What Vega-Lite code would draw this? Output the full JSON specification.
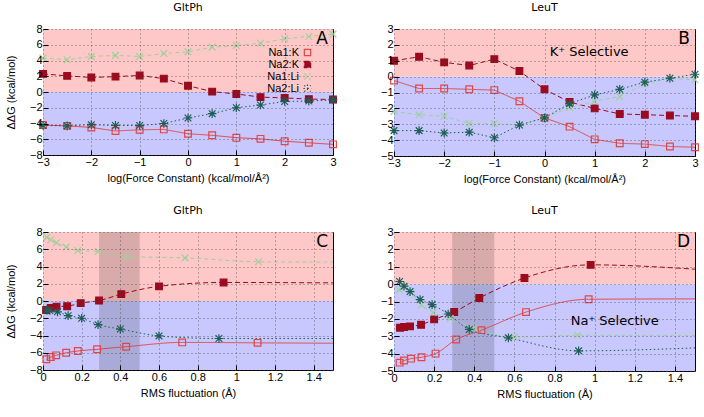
{
  "$schema": "https://vega.github.io/schema/vega-lite/v6.json",
  "padding": {"left": 4, "top": 1, "right": 4, "bottom": 4},
  "config": {
    "font": "Liberation Sans",
    "view": {"stroke": "#000", "strokeWidth": 1},
    "axis": {"grid": true, "gridColor": "#444", "gridDash": [1, 3], "gridOpacity": 0.9, "gridWidth": 0.8, "tickSize": -5, "tickColor": "#000", "domain": false, "labelFontSize": 11, "labelColor": "#000", "titleFontSize": 11, "titleFontWeight": "normal", "titleColor": "#000", "labelPadding": 6, "zindex": 1, "labelFlush": false, "labelOverlap": false, "tickCount": 20},
    "axisY": {"titlePadding": 13},
    "axisX": {"titlePadding": 5},
    "title": {"fontSize": 11, "fontWeight": "normal", "offset": 10, "font": "DejaVu Sans"},
    "legend": {"labelFontSize": 11, "symbolSize": 40, "rowPadding": -2, "padding": 0, "symbolStrokeWidth": 1.2, "labelColor": "#000", "labelAlign": "right", "labelOffset": -14}
  },
  "resolve": {"scale": {"color": "independent", "shape": "independent", "fill": "independent", "strokeDash": "independent"}},
  "data": {"values": [
    {"p":"A","s":"Na1:K","x":-3,"y":-4.2,"m":1},{"p":"A","s":"Na1:K","x":-2.5,"y":-4.3,"m":1},{"p":"A","s":"Na1:K","x":-2,"y":-4.5,"m":1},{"p":"A","s":"Na1:K","x":-1.5,"y":-4.95,"m":1},{"p":"A","s":"Na1:K","x":-1,"y":-4.8,"m":1},{"p":"A","s":"Na1:K","x":-0.5,"y":-4.75,"m":1},{"p":"A","s":"Na1:K","x":0,"y":-5.3,"m":1},{"p":"A","s":"Na1:K","x":0.5,"y":-5.5,"m":1},{"p":"A","s":"Na1:K","x":1,"y":-5.8,"m":1},{"p":"A","s":"Na1:K","x":1.5,"y":-5.95,"m":1},{"p":"A","s":"Na1:K","x":2,"y":-6.25,"m":1},{"p":"A","s":"Na1:K","x":2.5,"y":-6.45,"m":1},{"p":"A","s":"Na1:K","x":3,"y":-6.65,"m":1},
    {"p":"A","s":"Na2:K","x":-3,"y":2.3,"m":1},{"p":"A","s":"Na2:K","x":-2.5,"y":2.05,"m":1},{"p":"A","s":"Na2:K","x":-2,"y":1.85,"m":1},{"p":"A","s":"Na2:K","x":-1.5,"y":1.95,"m":1},{"p":"A","s":"Na2:K","x":-1,"y":2.1,"m":1},{"p":"A","s":"Na2:K","x":-0.5,"y":1.7,"m":1},{"p":"A","s":"Na2:K","x":0,"y":0.8,"m":1},{"p":"A","s":"Na2:K","x":0.5,"y":0.05,"m":1},{"p":"A","s":"Na2:K","x":1,"y":-0.25,"m":1},{"p":"A","s":"Na2:K","x":1.5,"y":-0.65,"m":1},{"p":"A","s":"Na2:K","x":2,"y":-0.75,"m":1},{"p":"A","s":"Na2:K","x":2.5,"y":-0.9,"m":1},{"p":"A","s":"Na2:K","x":3,"y":-0.95,"m":1},
    {"p":"A","s":"Na1:Li","x":-3,"y":4.3,"m":1},{"p":"A","s":"Na1:Li","x":-2.5,"y":4.1,"m":1},{"p":"A","s":"Na1:Li","x":-2,"y":4.5,"m":1},{"p":"A","s":"Na1:Li","x":-1.5,"y":4.65,"m":1},{"p":"A","s":"Na1:Li","x":-1,"y":4.5,"m":1},{"p":"A","s":"Na1:Li","x":-0.5,"y":4.9,"m":1},{"p":"A","s":"Na1:Li","x":0,"y":5.1,"m":1},{"p":"A","s":"Na1:Li","x":0.5,"y":5.7,"m":1},{"p":"A","s":"Na1:Li","x":1,"y":5.9,"m":1},{"p":"A","s":"Na1:Li","x":1.5,"y":6.2,"m":1},{"p":"A","s":"Na1:Li","x":2,"y":6.75,"m":1},{"p":"A","s":"Na1:Li","x":2.5,"y":7.05,"m":1},{"p":"A","s":"Na1:Li","x":3,"y":7.35,"m":1},
    {"p":"A","s":"Na2:Li","x":-3,"y":-4.25,"m":1},{"p":"A","s":"Na2:Li","x":-2.5,"y":-4.3,"m":1},{"p":"A","s":"Na2:Li","x":-2,"y":-4.15,"m":1},{"p":"A","s":"Na2:Li","x":-1.5,"y":-4.25,"m":1},{"p":"A","s":"Na2:Li","x":-1,"y":-4.25,"m":1},{"p":"A","s":"Na2:Li","x":-0.5,"y":-4.0,"m":1},{"p":"A","s":"Na2:Li","x":0,"y":-3.3,"m":1},{"p":"A","s":"Na2:Li","x":0.5,"y":-2.75,"m":1},{"p":"A","s":"Na2:Li","x":1,"y":-2.0,"m":1},{"p":"A","s":"Na2:Li","x":1.5,"y":-1.65,"m":1},{"p":"A","s":"Na2:Li","x":2,"y":-1.2,"m":1},{"p":"A","s":"Na2:Li","x":2.5,"y":-1.15,"m":1},{"p":"A","s":"Na2:Li","x":3,"y":-1.0,"m":1},
    {"p":"B","s":"Na1:K","x":-3,"y":-0.25,"m":1},{"p":"B","s":"Na1:K","x":-2.5,"y":-0.75,"m":1},{"p":"B","s":"Na1:K","x":-2,"y":-0.75,"m":1},{"p":"B","s":"Na1:K","x":-1.5,"y":-0.8,"m":1},{"p":"B","s":"Na1:K","x":-1,"y":-0.85,"m":1},{"p":"B","s":"Na1:K","x":-0.5,"y":-1.55,"m":1},{"p":"B","s":"Na1:K","x":0,"y":-2.6,"m":1},{"p":"B","s":"Na1:K","x":0.5,"y":-3.15,"m":1},{"p":"B","s":"Na1:K","x":1,"y":-3.95,"m":1},{"p":"B","s":"Na1:K","x":1.5,"y":-4.2,"m":1},{"p":"B","s":"Na1:K","x":2,"y":-4.25,"m":1},{"p":"B","s":"Na1:K","x":2.5,"y":-4.4,"m":1},{"p":"B","s":"Na1:K","x":3,"y":-4.45,"m":1},
    {"p":"B","s":"Na2:K","x":-3,"y":1.0,"m":1},{"p":"B","s":"Na2:K","x":-2.5,"y":1.25,"m":1},{"p":"B","s":"Na2:K","x":-2,"y":0.9,"m":1},{"p":"B","s":"Na2:K","x":-1.5,"y":0.7,"m":1},{"p":"B","s":"Na2:K","x":-1,"y":1.1,"m":1},{"p":"B","s":"Na2:K","x":-0.5,"y":0.35,"m":1},{"p":"B","s":"Na2:K","x":0,"y":-0.8,"m":1},{"p":"B","s":"Na2:K","x":0.5,"y":-1.6,"m":1},{"p":"B","s":"Na2:K","x":1,"y":-2.0,"m":1},{"p":"B","s":"Na2:K","x":1.5,"y":-2.35,"m":1},{"p":"B","s":"Na2:K","x":2,"y":-2.4,"m":1},{"p":"B","s":"Na2:K","x":2.5,"y":-2.45,"m":1},{"p":"B","s":"Na2:K","x":3,"y":-2.5,"m":1},
    {"p":"B","s":"Na1:Li","x":-3,"y":-2.2,"m":1},{"p":"B","s":"Na1:Li","x":-2.5,"y":-2.4,"m":1},{"p":"B","s":"Na1:Li","x":-2,"y":-2.5,"m":1},{"p":"B","s":"Na1:Li","x":-1.5,"y":-2.95,"m":1},{"p":"B","s":"Na1:Li","x":-1,"y":-2.95,"m":1},{"p":"B","s":"Na1:Li","x":-0.5,"y":-3.05,"m":1},{"p":"B","s":"Na1:Li","x":0,"y":-2.6,"m":1},{"p":"B","s":"Na1:Li","x":0.5,"y":-1.95,"m":1},{"p":"B","s":"Na1:Li","x":1,"y":-1.55,"m":1},{"p":"B","s":"Na1:Li","x":1.5,"y":-1.25,"m":1},{"p":"B","s":"Na1:Li","x":2,"y":-0.45,"m":1},{"p":"B","s":"Na1:Li","x":2.5,"y":-0.1,"m":1},{"p":"B","s":"Na1:Li","x":3,"y":-0.2,"m":1},
    {"p":"B","s":"Na2:Li","x":-3,"y":-3.4,"m":1},{"p":"B","s":"Na2:Li","x":-2.5,"y":-3.4,"m":1},{"p":"B","s":"Na2:Li","x":-2,"y":-3.55,"m":1},{"p":"B","s":"Na2:Li","x":-1.5,"y":-3.5,"m":1},{"p":"B","s":"Na2:Li","x":-1,"y":-3.85,"m":1},{"p":"B","s":"Na2:Li","x":-0.5,"y":-3.05,"m":1},{"p":"B","s":"Na2:Li","x":0,"y":-2.6,"m":1},{"p":"B","s":"Na2:Li","x":0.5,"y":-1.7,"m":1},{"p":"B","s":"Na2:Li","x":1,"y":-1.15,"m":1},{"p":"B","s":"Na2:Li","x":1.5,"y":-0.8,"m":1},{"p":"B","s":"Na2:Li","x":2,"y":-0.35,"m":1},{"p":"B","s":"Na2:Li","x":2.5,"y":-0.1,"m":1},{"p":"B","s":"Na2:Li","x":3,"y":0.15,"m":1},
    {"p":"C","s":"Na1:K","x":0.017,"y":-6.75,"m":1},{"p":"C","s":"Na1:K","x":0.04,"y":-6.5,"m":1},{"p":"C","s":"Na1:K","x":0.068,"y":-6.3,"m":1},{"p":"C","s":"Na1:K","x":0.12,"y":-6.0,"m":1},{"p":"C","s":"Na1:K","x":0.18,"y":-5.8,"m":1},{"p":"C","s":"Na1:K","x":0.28,"y":-5.6,"m":1},{"p":"C","s":"Na1:K","x":0.43,"y":-5.3,"m":1},{"p":"C","s":"Na1:K","x":0.72,"y":-4.8,"m":1},{"p":"C","s":"Na1:K","x":1.11,"y":-4.85,"m":1},{"p":"C","s":"Na1:K","x":1.5,"y":-4.9,"m":0},
    {"p":"C","s":"Na2:K","x":0.016,"y":-1.05,"m":1},{"p":"C","s":"Na2:K","x":0.04,"y":-0.8,"m":1},{"p":"C","s":"Na2:K","x":0.07,"y":-0.65,"m":1},{"p":"C","s":"Na2:K","x":0.125,"y":-0.6,"m":1},{"p":"C","s":"Na2:K","x":0.195,"y":-0.25,"m":1},{"p":"C","s":"Na2:K","x":0.29,"y":0.05,"m":1},{"p":"C","s":"Na2:K","x":0.405,"y":0.8,"m":1},{"p":"C","s":"Na2:K","x":0.6,"y":1.7,"m":1},{"p":"C","s":"Na2:K","x":0.934,"y":2.15,"m":1},{"p":"C","s":"Na2:K","x":1.5,"y":2.1,"m":0},
    {"p":"C","s":"Na1:Li","x":0.02,"y":7.4,"m":1},{"p":"C","s":"Na1:Li","x":0.04,"y":7.1,"m":1},{"p":"C","s":"Na1:Li","x":0.07,"y":6.75,"m":1},{"p":"C","s":"Na1:Li","x":0.12,"y":6.25,"m":1},{"p":"C","s":"Na1:Li","x":0.18,"y":5.85,"m":1},{"p":"C","s":"Na1:Li","x":0.285,"y":5.75,"m":1},{"p":"C","s":"Na1:Li","x":0.435,"y":5.15,"m":1},{"p":"C","s":"Na1:Li","x":0.735,"y":5.0,"m":1},{"p":"C","s":"Na1:Li","x":1.115,"y":4.55,"m":1},{"p":"C","s":"Na1:Li","x":1.5,"y":4.5,"m":0},
    {"p":"C","s":"Na2:Li","x":0.02,"y":-1.05,"m":1},{"p":"C","s":"Na2:Li","x":0.035,"y":-1.1,"m":1},{"p":"C","s":"Na2:Li","x":0.075,"y":-1.25,"m":1},{"p":"C","s":"Na2:Li","x":0.13,"y":-1.7,"m":1},{"p":"C","s":"Na2:Li","x":0.2,"y":-2.0,"m":1},{"p":"C","s":"Na2:Li","x":0.285,"y":-2.75,"m":1},{"p":"C","s":"Na2:Li","x":0.4,"y":-3.25,"m":1},{"p":"C","s":"Na2:Li","x":0.6,"y":-4.05,"m":1},{"p":"C","s":"Na2:Li","x":0.91,"y":-4.35,"m":1},{"p":"C","s":"Na2:Li","x":1.5,"y":-4.35,"m":0},
    {"p":"D","s":"Na1:K","x":0.028,"y":-4.52,"m":1},{"p":"D","s":"Na1:K","x":0.05,"y":-4.4,"m":1},{"p":"D","s":"Na1:K","x":0.085,"y":-4.29,"m":1},{"p":"D","s":"Na1:K","x":0.137,"y":-4.21,"m":1},{"p":"D","s":"Na1:K","x":0.207,"y":-4.0,"m":1},{"p":"D","s":"Na1:K","x":0.31,"y":-3.19,"m":1},{"p":"D","s":"Na1:K","x":0.436,"y":-2.65,"m":1},{"p":"D","s":"Na1:K","x":0.658,"y":-1.61,"m":1},{"p":"D","s":"Na1:K","x":0.97,"y":-0.87,"m":1},{"p":"D","s":"Na1:K","x":1.5,"y":-0.85,"m":0},
    {"p":"D","s":"Na2:K","x":0.03,"y":-2.51,"m":1},{"p":"D","s":"Na2:K","x":0.05,"y":-2.47,"m":1},{"p":"D","s":"Na2:K","x":0.08,"y":-2.43,"m":1},{"p":"D","s":"Na2:K","x":0.135,"y":-2.34,"m":1},{"p":"D","s":"Na2:K","x":0.2,"y":-2.03,"m":1},{"p":"D","s":"Na2:K","x":0.3,"y":-1.6,"m":1},{"p":"D","s":"Na2:K","x":0.425,"y":-0.8,"m":1},{"p":"D","s":"Na2:K","x":0.65,"y":0.35,"m":1},{"p":"D","s":"Na2:K","x":0.98,"y":1.11,"m":1},{"p":"D","s":"Na2:K","x":1.5,"y":0.86,"m":0},
    {"p":"D","s":"Na1:Li","x":0.025,"y":-0.32,"m":1},{"p":"D","s":"Na1:Li","x":0.055,"y":-0.14,"m":1},{"p":"D","s":"Na1:Li","x":0.085,"y":-0.53,"m":1},{"p":"D","s":"Na1:Li","x":0.137,"y":-1.2,"m":1},{"p":"D","s":"Na1:Li","x":0.195,"y":-1.63,"m":1},{"p":"D","s":"Na1:Li","x":0.28,"y":-1.97,"m":1},{"p":"D","s":"Na1:Li","x":0.4,"y":-2.55,"m":1},{"p":"D","s":"Na1:Li","x":0.6,"y":-3.05,"m":1},{"p":"D","s":"Na1:Li","x":0.915,"y":-2.94,"m":1},{"p":"D","s":"Na1:Li","x":1.5,"y":-2.95,"m":0},
    {"p":"D","s":"Na2:Li","x":0.028,"y":0.15,"m":1},{"p":"D","s":"Na2:Li","x":0.05,"y":-0.12,"m":1},{"p":"D","s":"Na2:Li","x":0.08,"y":-0.43,"m":1},{"p":"D","s":"Na2:Li","x":0.13,"y":-0.89,"m":1},{"p":"D","s":"Na2:Li","x":0.19,"y":-1.18,"m":1},{"p":"D","s":"Na2:Li","x":0.27,"y":-1.72,"m":1},{"p":"D","s":"Na2:Li","x":0.375,"y":-2.61,"m":1},{"p":"D","s":"Na2:Li","x":0.57,"y":-3.09,"m":1},{"p":"D","s":"Na2:Li","x":0.92,"y":-3.84,"m":1},{"p":"D","s":"Na2:Li","x":1.5,"y":-3.67,"m":0}
  ]},
  "columns": 2,
  "spacing": {"row": 76, "column": 61},
  "bounds": "flush",
  "concat": [
    {
      "title": "GltPh", "width": 290, "height": 126,
      "layer": [
        {"data": {"values": [{}]}, "mark": {"type": "rect", "color": "#ffc8c8"},
         "encoding": {"x": {"datum": -3, "type": "quantitative", "scale": {"domain": [-3, 3], "nice": false, "zero": false}, "axis": {"title": "log(Force Constant) (kcal/mol/Å²)", "values": [-3,-2,-1,0,1,2,3], "format": "~g", "zindex": 1, "labelOverlap": false, "tickCount": 20}}, "x2": {"datum": 3},
                      "y": {"datum": 0, "type": "quantitative", "scale": {"domain": [-8, 8], "nice": false, "zero": false}, "axis": {"title": "ΔΔG (kcal/mol)", "values": [-8,-6,-4,-2,0,2,4,6,8], "format": "~g", "zindex": 1, "labelOverlap": false, "tickCount": 20}}, "y2": {"datum": 8}}},
        {"data": {"values": [{}]}, "mark": {"type": "rect", "color": "#c8c8ff"},
         "encoding": {"x": {"datum": -3, "type": "quantitative"}, "x2": {"datum": 3}, "y": {"datum": -8, "type": "quantitative"}, "y2": {"datum": 0}}},
        {"transform": [{"filter": "datum.p === 'A'"}], "mark": {"type": "line", "strokeWidth": 1},
         "encoding": {"x": {"field": "x", "type": "quantitative"}, "y": {"field": "y", "type": "quantitative"},
           "color": {"field": "s", "type": "nominal", "title": null, "scale": {"domain": ["Na1:K","Na2:K","Na1:Li","Na2:Li"], "range": ["#e04646","#9b0a1e","#9fd09a","#1d5f58"]}, "legend": {"orient": "top-right", "offset": 18, "zindex": 2, "title": null}},
           "strokeDash": {"field": "s", "type": "nominal", "scale": {"domain": ["Na1:K","Na2:K","Na1:Li","Na2:Li"], "range": [[1,0],[5,3],[4,3],[1.5,2.5]]}, "legend": null}}},
        {"transform": [{"filter": "datum.p === 'A' && datum.m === 1"}], "mark": {"type": "point", "filled": false, "size": 45, "strokeWidth": 1.2, "opacity": 1},
         "encoding": {"x": {"field": "x", "type": "quantitative"}, "y": {"field": "y", "type": "quantitative"},
           "color": {"field": "s", "type": "nominal", "title": null, "scale": {"domain": ["Na1:K","Na2:K","Na1:Li","Na2:Li"], "range": ["#e04646","#9b0a1e","#9fd09a","#0d4f45"]}, "legend": {"orient": "top-right", "offset": 18, "zindex": 2, "title": null}},
           "shape": {"field": "s", "type": "nominal", "title": null, "scale": {"domain": ["Na1:K","Na2:K","Na1:Li","Na2:Li"], "range": ["square","square","M-1,-1L1,1M-1,1L1,-1","M-1,-1L1,1M-1,1L1,-1M0,-1.3L0,1.3M-1.3,0L1.3,0"]}, "legend": {"orient": "top-right", "offset": 18, "zindex": 2, "title": null}},
           "fill": {"field": "s", "type": "nominal", "title": null, "scale": {"domain": ["Na1:K","Na2:K","Na1:Li","Na2:Li"], "range": ["transparent","#9b0a1e","transparent","#0d4f45"]}, "legend": {"orient": "top-right", "offset": 18, "zindex": 2, "title": null}}}},
        {"data": {"values": [{}]}, "mark": {"type": "text", "align": "right", "baseline": "top", "dx": -5, "dy": 2, "fontSize": 17, "font": "DejaVu Sans"},
         "encoding": {"x": {"datum": 3, "type": "quantitative"}, "y": {"datum": 8, "type": "quantitative"}, "text": {"value": "A"}}}
      ]
    },
    {
      "title": "LeuT", "width": 301, "height": 127,
      "layer": [
        {"data": {"values": [{}]}, "mark": {"type": "rect", "color": "#ffc8c8"},
         "encoding": {"x": {"datum": -3, "type": "quantitative", "scale": {"domain": [-3, 3], "nice": false, "zero": false}, "axis": {"title": "log(Force Constant) (kcal/mol/Å²)", "values": [-3,-2,-1,0,1,2,3], "format": "~g", "zindex": 1, "labelOverlap": false, "tickCount": 20}}, "x2": {"datum": 3},
                      "y": {"datum": 0, "type": "quantitative", "scale": {"domain": [-5, 3], "nice": false, "zero": false}, "axis": {"title": null, "values": [-5,-4,-3,-2,-1,0,1,2,3], "format": "~g", "zindex": 1, "labelOverlap": false, "tickCount": 20}}, "y2": {"datum": 3}}},
        {"data": {"values": [{}]}, "mark": {"type": "rect", "color": "#c8c8ff"},
         "encoding": {"x": {"datum": -3, "type": "quantitative"}, "x2": {"datum": 3}, "y": {"datum": -5, "type": "quantitative"}, "y2": {"datum": 0}}},
        {"transform": [{"filter": "datum.p === 'B'"}], "mark": {"type": "line", "strokeWidth": 1},
         "encoding": {"x": {"field": "x", "type": "quantitative"}, "y": {"field": "y", "type": "quantitative"},
           "color": {"field": "s", "type": "nominal", "scale": {"domain": ["Na1:K","Na2:K","Na1:Li","Na2:Li"], "range": ["#e04646","#9b0a1e","#9fd09a","#1d5f58"]}, "legend": null},
           "strokeDash": {"field": "s", "type": "nominal", "scale": {"domain": ["Na1:K","Na2:K","Na1:Li","Na2:Li"], "range": [[1,0],[5,3],[4,3],[1.5,2.5]]}, "legend": null}}},
        {"transform": [{"filter": "datum.p === 'B' && datum.m === 1"}], "mark": {"type": "point", "filled": false, "size": 45, "strokeWidth": 1.2, "opacity": 1},
         "encoding": {"x": {"field": "x", "type": "quantitative"}, "y": {"field": "y", "type": "quantitative"},
           "color": {"field": "s", "type": "nominal", "scale": {"domain": ["Na1:K","Na2:K","Na1:Li","Na2:Li"], "range": ["#e04646","#9b0a1e","#9fd09a","#0d4f45"]}, "legend": null},
           "shape": {"field": "s", "type": "nominal", "scale": {"domain": ["Na1:K","Na2:K","Na1:Li","Na2:Li"], "range": ["square","square","M-1,-1L1,1M-1,1L1,-1","M-1,-1L1,1M-1,1L1,-1M0,-1.3L0,1.3M-1.3,0L1.3,0"]}, "legend": null},
           "fill": {"field": "s", "type": "nominal", "scale": {"domain": ["Na1:K","Na2:K","Na1:Li","Na2:Li"], "range": ["transparent","#9b0a1e","transparent","#0d4f45"]}, "legend": null}}},
        {"data": {"values": [{}]}, "mark": {"type": "text", "align": "right", "baseline": "top", "dx": -5, "dy": 2, "fontSize": 17, "font": "DejaVu Sans"},
         "encoding": {"x": {"datum": 3, "type": "quantitative"}, "y": {"datum": 3, "type": "quantitative"}, "text": {"value": "B"}}},
        {"data": {"values": [{}]}, "mark": {"type": "text", "align": "center", "baseline": "middle", "fontSize": 13, "font": "DejaVu Sans", "color": "#000"},
         "encoding": {"x": {"datum": 0.89, "type": "quantitative"}, "y": {"datum": 1.55, "type": "quantitative"}, "text": {"value": "K⁺ Selective"}}}
      ]
    },
    {
      "title": "GltPh", "width": 290, "height": 138,
      "layer": [
        {"data": {"values": [{}]}, "mark": {"type": "rect", "color": "#ffc8c8"},
         "encoding": {"x": {"datum": 0, "type": "quantitative", "scale": {"domain": [0, 1.5], "nice": false, "zero": false}, "axis": {"title": "RMS fluctuation (Å)", "values": [0,0.2,0.4,0.6,0.8,1,1.2,1.4], "format": "~g", "zindex": 1, "labelOverlap": false, "tickCount": 20}}, "x2": {"datum": 1.5},
                      "y": {"datum": 0, "type": "quantitative", "scale": {"domain": [-8, 8], "nice": false, "zero": false}, "axis": {"title": "ΔΔG (kcal/mol)", "values": [-8,-6,-4,-2,0,2,4,6,8], "format": "~g", "zindex": 1, "labelOverlap": false, "tickCount": 20}}, "y2": {"datum": 8}}},
        {"data": {"values": [{}]}, "mark": {"type": "rect", "color": "#c8c8ff"},
         "encoding": {"x": {"datum": 0, "type": "quantitative"}, "x2": {"datum": 1.5}, "y": {"datum": -8, "type": "quantitative"}, "y2": {"datum": 0}}},
        {"data": {"values": [{}]}, "mark": {"type": "rect", "color": "#000", "opacity": 0.15},
         "encoding": {"x": {"datum": 0.29, "type": "quantitative"}, "x2": {"datum": 0.5}, "y": {"datum": -8, "type": "quantitative"}, "y2": {"datum": 8}}},
        {"transform": [{"filter": "datum.p === 'C'"}], "mark": {"type": "line", "strokeWidth": 1, "interpolate": "monotone"},
         "encoding": {"x": {"field": "x", "type": "quantitative"}, "y": {"field": "y", "type": "quantitative"},
           "color": {"field": "s", "type": "nominal", "scale": {"domain": ["Na1:K","Na2:K","Na1:Li","Na2:Li"], "range": ["#e04646","#9b0a1e","#9fd09a","#1d5f58"]}, "legend": null},
           "strokeDash": {"field": "s", "type": "nominal", "scale": {"domain": ["Na1:K","Na2:K","Na1:Li","Na2:Li"], "range": [[1,0],[5,3],[4,3],[1.5,2.5]]}, "legend": null}}},
        {"transform": [{"filter": "datum.p === 'C' && datum.m === 1"}], "mark": {"type": "point", "filled": false, "size": 45, "strokeWidth": 1.2, "opacity": 1},
         "encoding": {"x": {"field": "x", "type": "quantitative"}, "y": {"field": "y", "type": "quantitative"},
           "color": {"field": "s", "type": "nominal", "scale": {"domain": ["Na1:K","Na2:K","Na1:Li","Na2:Li"], "range": ["#e04646","#9b0a1e","#9fd09a","#0d4f45"]}, "legend": null},
           "shape": {"field": "s", "type": "nominal", "scale": {"domain": ["Na1:K","Na2:K","Na1:Li","Na2:Li"], "range": ["square","square","M-1,-1L1,1M-1,1L1,-1","M-1,-1L1,1M-1,1L1,-1M0,-1.3L0,1.3M-1.3,0L1.3,0"]}, "legend": null},
           "fill": {"field": "s", "type": "nominal", "scale": {"domain": ["Na1:K","Na2:K","Na1:Li","Na2:Li"], "range": ["transparent","#9b0a1e","transparent","#0d4f45"]}, "legend": null}}},
        {"data": {"values": [{}]}, "mark": {"type": "text", "align": "right", "baseline": "top", "dx": -5, "dy": 2, "fontSize": 17, "font": "DejaVu Sans"},
         "encoding": {"x": {"datum": 1.5, "type": "quantitative"}, "y": {"datum": 8, "type": "quantitative"}, "text": {"value": "C"}}}
      ]
    },
    {
      "title": "LeuT", "width": 301, "height": 139,
      "layer": [
        {"data": {"values": [{}]}, "mark": {"type": "rect", "color": "#ffc8c8"},
         "encoding": {"x": {"datum": 0, "type": "quantitative", "scale": {"domain": [0, 1.5], "nice": false, "zero": false}, "axis": {"title": "RMS fluctuation (Å)", "values": [0,0.2,0.4,0.6,0.8,1,1.2,1.4], "format": "~g", "zindex": 1, "labelOverlap": false, "tickCount": 20}}, "x2": {"datum": 1.5},
                      "y": {"datum": 0, "type": "quantitative", "scale": {"domain": [-5, 3], "nice": false, "zero": false}, "axis": {"title": null, "values": [-5,-4,-3,-2,-1,0,1,2,3], "format": "~g", "zindex": 1, "labelOverlap": false, "tickCount": 20}}, "y2": {"datum": 3}}},
        {"data": {"values": [{}]}, "mark": {"type": "rect", "color": "#c8c8ff"},
         "encoding": {"x": {"datum": 0, "type": "quantitative"}, "x2": {"datum": 1.5}, "y": {"datum": -5, "type": "quantitative"}, "y2": {"datum": 0}}},
        {"data": {"values": [{}]}, "mark": {"type": "rect", "color": "#000", "opacity": 0.15},
         "encoding": {"x": {"datum": 0.29, "type": "quantitative"}, "x2": {"datum": 0.5}, "y": {"datum": -5, "type": "quantitative"}, "y2": {"datum": 3}}},
        {"transform": [{"filter": "datum.p === 'D'"}], "mark": {"type": "line", "strokeWidth": 1, "interpolate": "monotone"},
         "encoding": {"x": {"field": "x", "type": "quantitative"}, "y": {"field": "y", "type": "quantitative"},
           "color": {"field": "s", "type": "nominal", "scale": {"domain": ["Na1:K","Na2:K","Na1:Li","Na2:Li"], "range": ["#e04646","#9b0a1e","#9fd09a","#1d5f58"]}, "legend": null},
           "strokeDash": {"field": "s", "type": "nominal", "scale": {"domain": ["Na1:K","Na2:K","Na1:Li","Na2:Li"], "range": [[1,0],[5,3],[4,3],[1.5,2.5]]}, "legend": null}}},
        {"transform": [{"filter": "datum.p === 'D' && datum.m === 1"}], "mark": {"type": "point", "filled": false, "size": 45, "strokeWidth": 1.2, "opacity": 1},
         "encoding": {"x": {"field": "x", "type": "quantitative"}, "y": {"field": "y", "type": "quantitative"},
           "color": {"field": "s", "type": "nominal", "scale": {"domain": ["Na1:K","Na2:K","Na1:Li","Na2:Li"], "range": ["#e04646","#9b0a1e","#9fd09a","#0d4f45"]}, "legend": null},
           "shape": {"field": "s", "type": "nominal", "scale": {"domain": ["Na1:K","Na2:K","Na1:Li","Na2:Li"], "range": ["square","square","M-1,-1L1,1M-1,1L1,-1","M-1,-1L1,1M-1,1L1,-1M0,-1.3L0,1.3M-1.3,0L1.3,0"]}, "legend": null},
           "fill": {"field": "s", "type": "nominal", "scale": {"domain": ["Na1:K","Na2:K","Na1:Li","Na2:Li"], "range": ["transparent","#9b0a1e","transparent","#0d4f45"]}, "legend": null}}},
        {"data": {"values": [{}]}, "mark": {"type": "text", "align": "right", "baseline": "top", "dx": -5, "dy": 2, "fontSize": 17, "font": "DejaVu Sans"},
         "encoding": {"x": {"datum": 1.5, "type": "quantitative"}, "y": {"datum": 3, "type": "quantitative"}, "text": {"value": "D"}}},
        {"data": {"values": [{}]}, "mark": {"type": "text", "align": "center", "baseline": "middle", "fontSize": 13, "font": "DejaVu Sans", "color": "#000"},
         "encoding": {"x": {"datum": 1.1, "type": "quantitative"}, "y": {"datum": -2.1, "type": "quantitative"}, "text": {"value": "Na⁺ Selective"}}}
      ]
    }
  ]
}
